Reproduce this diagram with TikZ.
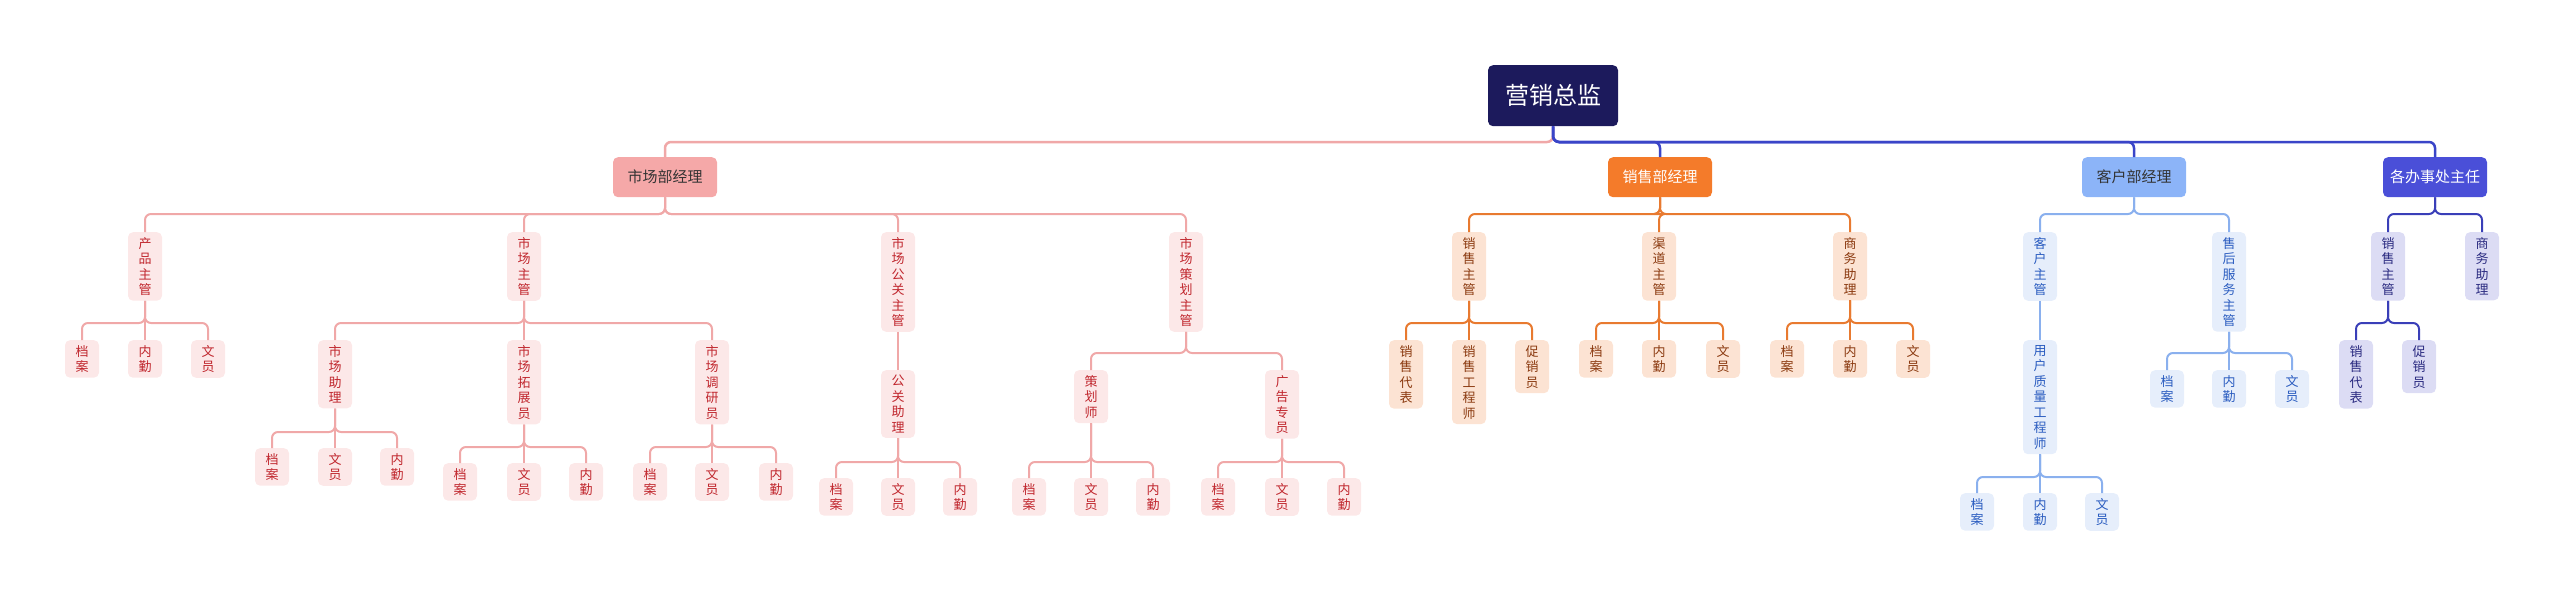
\documentclass[tikz,border=0pt]{standalone}
\usepackage{fontspec}
\newfontfamily\cjk{Noto Sans CJK SC}
\definecolor{topfill}{HTML}{1C1A5C}
\definecolor{topline}{HTML}{3A45C8}
\definecolor{mkfill}{HTML}{F5A8A8}\definecolor{mkline}{HTML}{F0A8A8}
\definecolor{mkleaf}{HTML}{FCE8E8}\definecolor{mktext}{HTML}{C0262D}
\definecolor{slfill}{HTML}{F47B2A}\definecolor{slline}{HTML}{E87A30}
\definecolor{slleaf}{HTML}{FCE3D3}\definecolor{sltext}{HTML}{8B3A10}
\definecolor{csfill}{HTML}{8CB4F8}\definecolor{csline}{HTML}{8AB0EE}
\definecolor{csleaf}{HTML}{E6EEFB}\definecolor{cstext}{HTML}{2A5CC0}
\definecolor{offill}{HTML}{4A4FD8}\definecolor{ofline}{HTML}{3A3FB8}
\definecolor{ofleaf}{HTML}{DCDCF4}\definecolor{oftext}{HTML}{2A2A80}
\tikzset{
  box/.style={rounded corners=5pt, align=center, inner sep=5pt, minimum width=34pt,
    anchor=north, font=\cjk\fontsize{13}{15.5}\selectfont},
  mgr/.style={rounded corners=5pt, anchor=north, minimum width=104pt, minimum height=40pt,
    font=\cjk\fontsize{15}{18}\selectfont},
  mk/.style={box, fill=mkleaf, text=mktext},
  sl/.style={box, fill=slleaf, text=sltext},
  cs/.style={box, fill=csleaf, text=cstext},
  of/.style={box, fill=ofleaf, text=oftext},
  link/.style={line width=2pt, rounded corners=6pt}
}
\begin{document}
\begin{tikzpicture}[x=1pt,y=-1pt]
\useasboundingbox (0,0) rectangle (2560,605);
% top
\node[mgr, fill=topfill, text=white, minimum width=130pt, minimum height=61pt,
  font=\cjk\fontsize{24}{28}\selectfont] (t) at (1553,65) {营销总监};
\node[mgr, fill=mkfill, text=black!80] (m) at (665,157) {市场部经理};
\node[mgr, fill=slfill, text=white] (s) at (1660,157) {销售部经理};
\node[mgr, fill=csfill, text=black!80] (c) at (2134,157) {客户部经理};
\node[mgr, fill=offill, text=white] (o) at (2435,157) {各办事处主任};
\coordinate (tb) at (1553,142);
\draw[link, line width=2.5pt, mkline] (t.south) -- (tb) -| (m.north);
\foreach \n in {s,c,o}
  \draw[link, line width=2.5pt, topline] (t.south) -- (tb) -| (\n.north);
% marketing
\node[mk] (m1) at (145,232) {产\\品\\主\\管};
\node[mk] (m2) at (524,232) {市\\场\\主\\管};
\node[mk] (m3) at (898,232) {市\\场\\公\\关\\主\\管};
\node[mk] (m4) at (1186,232) {市\\场\\策\\划\\主\\管};
\node[mk] (m1a) at (82,340) {档\\案};
\node[mk] (m1b) at (145,340) {内\\勤};
\node[mk] (m1c) at (208,340) {文\\员};
\node[mk] (m21) at (335,340) {市\\场\\助\\理};
\node[mk] (m22) at (524,340) {市\\场\\拓\\展\\员};
\node[mk] (m23) at (712,340) {市\\场\\调\\研\\员};
\node[mk] (m21a) at (272,448) {档\\案};
\node[mk] (m21b) at (335,448) {文\\员};
\node[mk] (m21c) at (397,448) {内\\勤};
\node[mk] (m22a) at (460,463) {档\\案};
\node[mk] (m22b) at (524,463) {文\\员};
\node[mk] (m22c) at (586,463) {内\\勤};
\node[mk] (m23a) at (650,463) {档\\案};
\node[mk] (m23b) at (712,463) {文\\员};
\node[mk] (m23c) at (776,463) {内\\勤};
\node[mk] (m31) at (898,370) {公\\关\\助\\理};
\node[mk] (m31a) at (836,478) {档\\案};
\node[mk] (m31b) at (898,478) {文\\员};
\node[mk] (m31c) at (960,478) {内\\勤};
\node[mk] (m41) at (1091,370) {策\\划\\师};
\node[mk] (m42) at (1282,370) {广\\告\\专\\员};
\node[mk] (m41a) at (1029,478) {档\\案};
\node[mk] (m41b) at (1091,478) {文\\员};
\node[mk] (m41c) at (1153,478) {内\\勤};
\node[mk] (m42a) at (1218,478) {档\\案};
\node[mk] (m42b) at (1282,478) {文\\员};
\node[mk] (m42c) at (1344,478) {内\\勤};
\coordinate (mb) at (665,214);
\coordinate (m1bus) at (145,323);
\coordinate (m2bus) at (524,323);
\coordinate (m21bus) at (335,432);
\coordinate (m22bus) at (524,447);
\coordinate (m23bus) at (712,447);
\coordinate (m31bus) at (898,462);
\coordinate (m4bus) at (1186,353);
\coordinate (m41bus) at (1091,462);
\coordinate (m42bus) at (1282,462);
\begin{scope}[mkline]
\foreach \n in {m1,m2,m3,m4} \draw[link] (m.south) -- (mb) -| (\n.north);
\foreach \n in {m1a,m1b,m1c} \draw[link] (m1.south) -- (m1bus) -| (\n.north);
\foreach \n in {m21,m22,m23} \draw[link] (m2.south) -- (m2bus) -| (\n.north);
\foreach \n in {m21a,m21b,m21c} \draw[link] (m21.south) -- (m21bus) -| (\n.north);
\foreach \n in {m22a,m22b,m22c} \draw[link] (m22.south) -- (m22bus) -| (\n.north);
\foreach \n in {m23a,m23b,m23c} \draw[link] (m23.south) -- (m23bus) -| (\n.north);
\draw[link] (m3.south) -- (m31.north);
\foreach \n in {m31a,m31b,m31c} \draw[link] (m31.south) -- (m31bus) -| (\n.north);
\foreach \n in {m41,m42} \draw[link] (m4.south) -- (m4bus) -| (\n.north);
\foreach \n in {m41a,m41b,m41c} \draw[link] (m41.south) -- (m41bus) -| (\n.north);
\foreach \n in {m42a,m42b,m42c} \draw[link] (m42.south) -- (m42bus) -| (\n.north);
\end{scope}
% sales
\node[sl] (s1) at (1469,232) {销\\售\\主\\管};
\node[sl] (s2) at (1659,232) {渠\\道\\主\\管};
\node[sl] (s3) at (1850,232) {商\\务\\助\\理};
\node[sl] (s1a) at (1406,340) {销\\售\\代\\表};
\node[sl] (s1b) at (1469,340) {销\\售\\工\\程\\师};
\node[sl] (s1c) at (1532,340) {促\\销\\员};
\node[sl] (s2a) at (1596,340) {档\\案};
\node[sl] (s2b) at (1659,340) {内\\勤};
\node[sl] (s2c) at (1723,340) {文\\员};
\node[sl] (s3a) at (1787,340) {档\\案};
\node[sl] (s3b) at (1850,340) {内\\勤};
\node[sl] (s3c) at (1913,340) {文\\员};
\coordinate (sb) at (1660,214);
\coordinate (s1bus) at (1469,323);
\coordinate (s2bus) at (1659,323);
\coordinate (s3bus) at (1850,323);
\begin{scope}[slline]
\foreach \n in {s1,s2,s3} \draw[link] (s.south) -- (sb) -| (\n.north);
\foreach \n in {s1a,s1b,s1c} \draw[link] (s1.south) -- (s1bus) -| (\n.north);
\foreach \n in {s2a,s2b,s2c} \draw[link] (s2.south) -- (s2bus) -| (\n.north);
\foreach \n in {s3a,s3b,s3c} \draw[link] (s3.south) -- (s3bus) -| (\n.north);
\end{scope}
% customers
\node[cs] (c1) at (2040,232) {客\\户\\主\\管};
\node[cs] (c2) at (2229,232) {售\\后\\服\\务\\主\\管};
\node[cs] (c11) at (2040,340) {用\\户\\质\\量\\工\\程\\师};
\node[cs] (c11a) at (1977,493) {档\\案};
\node[cs] (c11b) at (2040,493) {内\\勤};
\node[cs] (c11c) at (2102,493) {文\\员};
\node[cs] (c2a) at (2167,370) {档\\案};
\node[cs] (c2b) at (2229,370) {内\\勤};
\node[cs] (c2c) at (2292,370) {文\\员};
\coordinate (cb) at (2134,214);
\coordinate (c11bus) at (2040,477);
\coordinate (c2bus) at (2229,353);
\begin{scope}[csline]
\foreach \n in {c1,c2} \draw[link] (c.south) -- (cb) -| (\n.north);
\draw[link] (c1.south) -- (c11.north);
\foreach \n in {c11a,c11b,c11c} \draw[link] (c11.south) -- (c11bus) -| (\n.north);
\foreach \n in {c2a,c2b,c2c} \draw[link] (c2.south) -- (c2bus) -| (\n.north);
\end{scope}
% offices
\node[of] (o1) at (2388,232) {销\\售\\主\\管};
\node[of] (o2) at (2482,232) {商\\务\\助\\理};
\node[of] (o1a) at (2356,340) {销\\售\\代\\表};
\node[of] (o1b) at (2419,340) {促\\销\\员};
\coordinate (ob) at (2435,214);
\coordinate (o1bus) at (2388,323);
\begin{scope}[ofline]
\foreach \n in {o1,o2} \draw[link] (o.south) -- (ob) -| (\n.north);
\foreach \n in {o1a,o1b} \draw[link] (o1.south) -- (o1bus) -| (\n.north);
\end{scope}
\end{tikzpicture}
\end{document}
